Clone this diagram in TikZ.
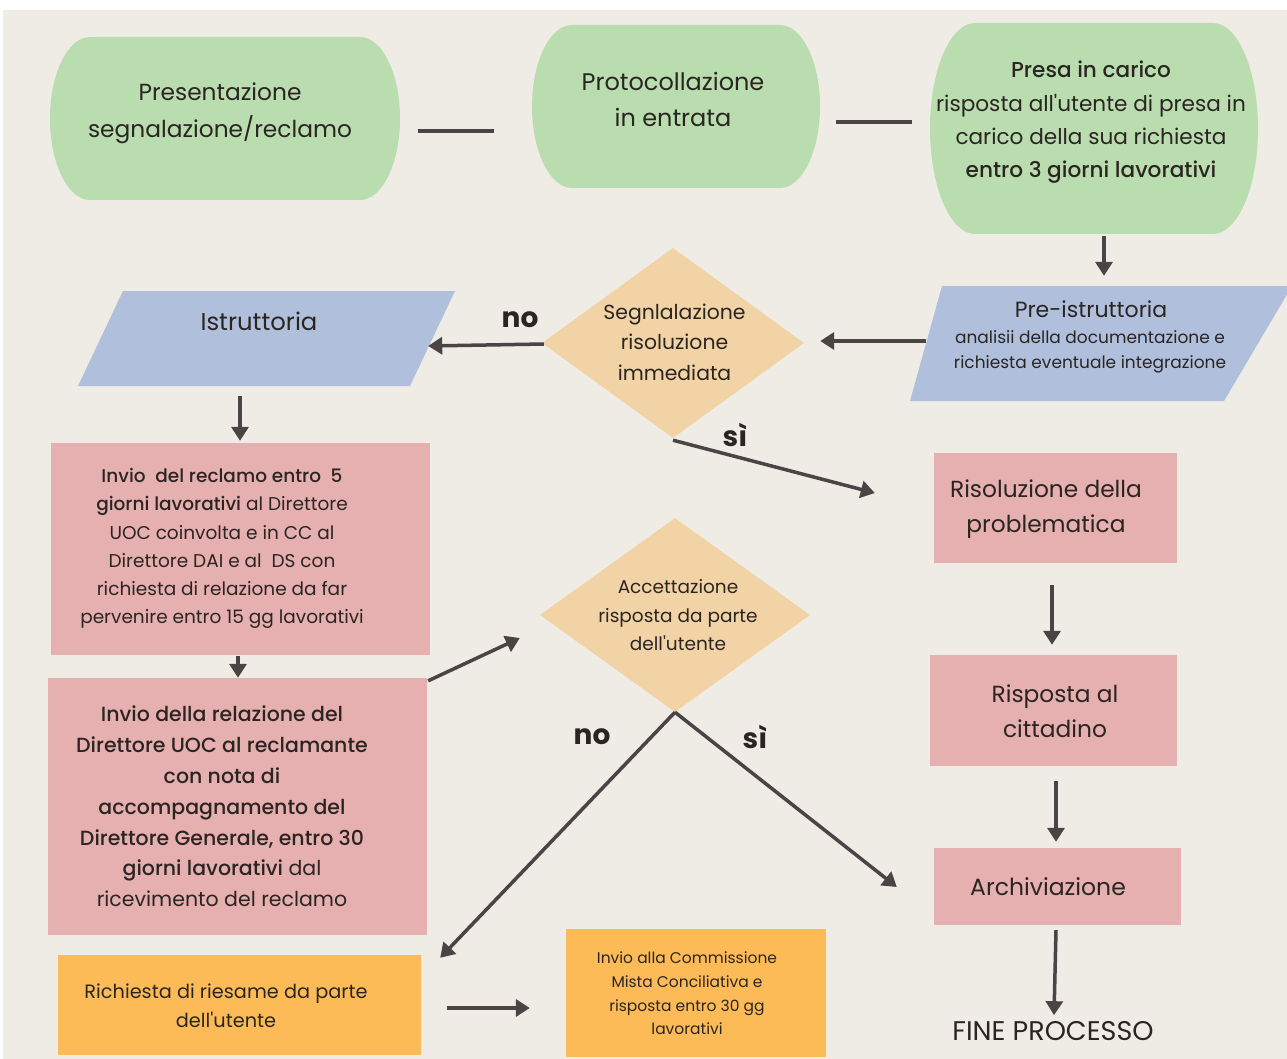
\documentclass[tikz,border=0pt]{standalone}
\usepackage{fontspec}
\setmainfont{Poppins}[Ligatures=TeXOff]
\IfFontExistsTF{Poppins Medium}{\newfontfamily\medfont{Poppins Medium}[Ligatures=TeXOff]}{\let\medfont\bfseries}
\usetikzlibrary{shapes.geometric,arrows.meta,calc}
\definecolor{bgc}{HTML}{EFEBE5}
\definecolor{greenc}{HTML}{BADDB0}
\definecolor{diac}{HTML}{F2D3A5}
\definecolor{bluec}{HTML}{B0C0DC}
\definecolor{pinkc}{HTML}{E6AFB0}
\definecolor{orangec}{HTML}{FDBB58}
\definecolor{arrowc}{HTML}{4A4544}
\definecolor{txtc}{HTML}{2B2522}
\newcommand\md[1]{{\medfont #1}}
\newcommand\fs[2]{\fontsize{#1}{#2}\selectfont}
\tikzset{
  conn/.style={line width=3.5pt, draw=arrowc, -{Triangle[width=17pt,length=14pt]}},
  plainline/.style={line width=3.5pt, draw=arrowc},
  lbl/.style={font=\bfseries\fs{28}{30}, text=txtc, inner sep=0pt},
  shp/.style={rectangle, inner sep=0pt, draw=none},
  rbox/.style={rectangle, inner sep=0pt, fill=pinkc},
  obox/.style={rectangle, inner sep=0pt, fill=orangec},
  dia/.style={diamond, inner sep=0pt, fill=diac, aspect=1.38},
  txt/.style={inner sep=0pt, align=center, text=txtc},
}
\newcommand\stadium[5]{% x0 y0 x1 y1 rx
  \fill[greenc] (#1+#5,#2) -- (#3-#5,#2)
    arc[start angle=-90, end angle=90, x radius=#5, y radius={(#4-#2)/2}]
    -- (#1+#5,#4)
    arc[start angle=90, end angle=270, x radius=#5, y radius={(#4-#2)/2}] -- cycle;}
\begin{document}
\begin{tikzpicture}[x=1pt,y=-1pt]
\useasboundingbox (0,0) rectangle (1287,1059);
\fill[white] (0,0) rectangle (1287,1059);
\fill[bgc] (3,10) rectangle (1287,1059);

% top stadiums
\stadium{50}{37}{400}{200}{40}
\stadium{532}{25}{820}{188}{40}
\stadium{930}{23}{1258}{234}{45}
\node[shp, minimum width=350pt, minimum height=163pt] (pres) at (225,118.5) {};
\node[shp, minimum width=288pt, minimum height=163pt] (prot) at (676,106.5) {};
\node[shp, minimum width=328pt, minimum height=211pt] (presa) at (1094,128.5) {};
\node[txt, font=\fs{23.3}{37}] (presT) at (220,113.5) {Presentazione\\segnalazione/reclamo};
\node[txt, font=\fs{24}{36}] (protT) at (673,99.5) {Protocollazione\\in entrata};
\node[txt, font=\fs{21.6}{33.3}] (presaT) at (1091,122.5) {\md{Presa in carico}\\risposta all'utente di presa in\\carico della sua richiesta\\\md{entro 3 giorni lavorativi}};

% parallelograms
\fill[bluec] (942,286) -- (1292,286) -- (1224,401) -- (910,401) -- cycle;
\node[shp, minimum width=380pt, minimum height=115pt] (pre) at (1100,343.5) {};
\node[txt, font=\fs{22}{30}] (preT1) at (1091,309) {Pre-istruttoria};
\node[txt, font=\fs{17}{25}] (preT2) at (1090,351.5) {analisii della documentazione e\\richiesta eventuale integrazione};

\fill[bluec] (123,291) -- (455,291) -- (410,386) -- (78,386) -- cycle;
\node[shp, minimum width=377pt, minimum height=95pt] (istr) at (266.5,338.5) {};
\node[txt, font=\fs{24.3}{30}] (istrT) at (259,321) {Istruttoria};

% diamonds
\node[dia, minimum width=262pt, minimum height=190pt] (d1) at (673,343) {};
\node[txt, font=\fs{20.4}{30.5}] (d1T) at (674.5,342) {Segnlalazione\\risoluzione\\immediata};
\node[dia, minimum width=270pt, minimum height=194pt] (d2) at (675,615) {};
\node[txt, font=\fs{18.5}{28.5}] (d2T) at (678,615.5) {Accettazione\\risposta da parte\\dell'utente};

% pink boxes left
\node[rbox, minimum width=379pt, minimum height=212pt] (b1) at (240.5,549) {};
\node[txt, font=\fs{18.5}{28.2}] (b1T) at (222,548.5) {\md{Invio\ \ del reclamo entro\ \ 5}\\\md{giorni lavorativi} al Direttore\\UOC coinvolta e in CC al\\Direttore DAI e al\ \ DS con\\richiesta di relazione da far\\pervenire entro 15 gg lavorativi};
\node[rbox, minimum width=379pt, minimum height=257pt] (b2) at (237.5,806.5) {};
\node[txt, font=\fs{20.5}{30.8}] (b2T) at (222,806.5) {\md{Invio della relazione del}\\\md{Direttore UOC al reclamante}\\\md{con nota di}\\\md{accompagnamento del}\\\md{Direttore Generale, entro 30}\\\md{giorni lavorativi} dal\\ricevimento del reclamo};

% right column
\node[rbox, minimum width=243pt, minimum height=110pt] (risol) at (1055.5,508) {};
\node[txt, font=\fs{23.3}{35}] (risolT) at (1046,509) {Risoluzione della\\problematica};
\node[rbox, minimum width=247pt, minimum height=111pt] (risp) at (1053.5,710.5) {};
\node[txt, font=\fs{23.3}{35}] (rispT) at (1055,711) {Risposta al\\cittadino};
\node[rbox, minimum width=247pt, minimum height=77pt] (arch) at (1057.5,886.5) {};
\node[txt, font=\fs{23.5}{30}] (archT) at (1048,886.5) {Archiviazione};
\node[txt, font=\fs{27}{30}] (fine) at (1053,1031) {FINE PROCESSO};

% orange boxes
\node[obox, minimum width=363pt, minimum height=100pt] (rich) at (239.5,1005) {};
\node[txt, font=\fs{19.3}{29}] (richT) at (226,1005.5) {Richiesta di riesame da parte\\dell'utente};
\node[obox, minimum width=260pt, minimum height=128pt] (inv) at (696,993) {};
\node[txt, font=\fs{15.5}{23.7}] (invT) at (687,993.5) {Invio alla Commissione\\Mista Conciliativa e\\risposta entro 30 gg\\lavorativi};

% connectors
\draw[plainline] ($(pres.east)+(18,12.5)$) -- ($(prot.west)+(-38,24.5)$);
\draw[plainline] ($(prot.east)+(16,15.5)$) -- ($(presa.west)+(-18,-6.5)$);
\draw[conn] ($(presa.south)+(10,2)$) -- ($(pre.north)+(4,-10)$);
\draw[conn] ($(pre.west)+(16,-2.5)$) -- ($(d1.east)+(16,-2)$);
\draw[conn] ($(d1.west)+(2,1)$) -- ($(istr.east)+(-27,7.5)$);
\draw[conn] ($(d1.south)+(0,2)$) -- ($(risol.west)+(-59,-15)$);
\draw[conn] ($(istr.south)+(-26.5,10)$) -- ($(b1.north)+(-0.5,-2)$);
\draw[conn] ($(b1.south)+(-2.5,1)$) -- ($(b2.north)+(0.5,0)$);
\draw[conn] ($(b2.north east)+(1,3)$) -- ($(d2.west)+(-20,23)$);
\draw[conn] ($(d2.south)+(0,0)$) -- ($(rich.north east)+(19,3)$);
\draw[conn] ($(d2.south)+(0,0)$) -- ($(arch.west)+(-37,0.5)$);
\draw[conn] ($(risol.south)+(-3.5,22)$) -- ($(risp.north)+(-1.5,-10)$);
\draw[conn] ($(risp.south)+(2.5,15)$) -- ($(arch.north)+(-1.5,-6)$);
\draw[conn] ($(arch.south)+(-1.5,5)$) -- ($(fine.north)+(1,-6)$);
\draw[conn] ($(rich.east)+(26,3)$) -- ($(inv.west)+(-36,15)$);

% branch labels
\node[lbl] (no1) at (520,320) {no};
\node[lbl] (si1) at (735,435) {sì};
\node[lbl] (no2) at (592,737) {no};
\node[lbl] (si2) at (755,737) {sì};
\end{tikzpicture}
\end{document}
